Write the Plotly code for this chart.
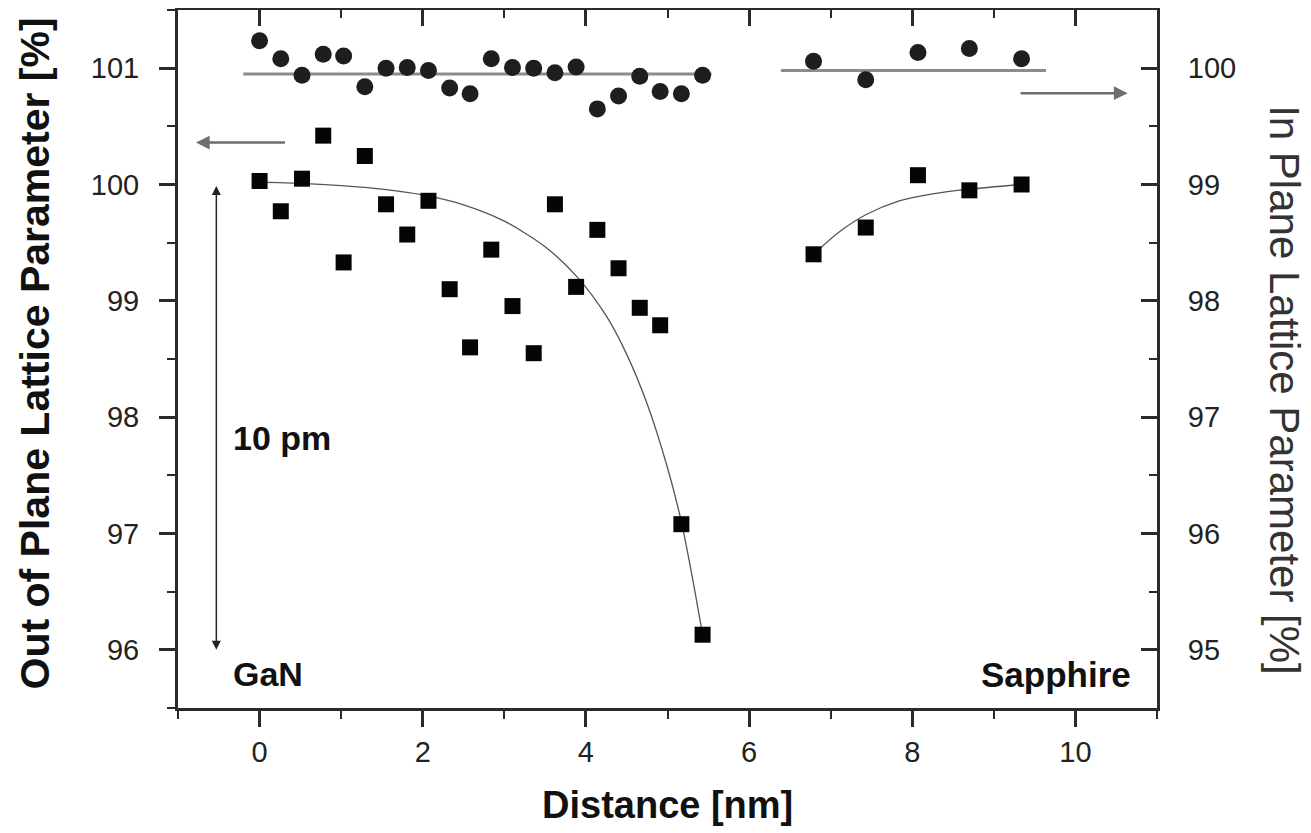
import plotly.graph_objects as go

# ---------------- data ----------------
gan_x = [0.00, 0.26, 0.52, 0.78, 1.03, 1.29, 1.55, 1.81, 2.07, 2.33, 2.58,
         2.84, 3.10, 3.36, 3.62, 3.88, 4.14, 4.40, 4.66, 4.91, 5.17, 5.43]
gan_out = [100.03, 99.77, 100.05, 100.42, 99.33, 100.245, 99.83, 99.57, 99.86, 99.10, 98.60,
           99.44, 98.955, 98.55, 99.83, 99.12, 99.61, 99.28, 98.94, 98.79, 97.08, 96.13]
gan_in = [100.235, 100.08, 99.94, 100.12, 100.105, 99.84, 100.0, 100.005, 99.98, 99.83, 99.78,
          100.08, 100.005, 100.0, 99.96, 100.01, 99.65, 99.76, 99.93, 99.80, 99.78, 99.94]

sap_x = [6.79, 7.43, 8.07, 8.70, 9.34]
sap_out = [99.40, 99.63, 100.08, 99.95, 100.00]
sap_in = [100.06, 99.90, 100.135, 100.17, 100.08]

# fitted curves
gan_fit_x = [0.0, 0.5, 1.0, 1.5, 2.0, 2.5, 3.0, 3.5, 3.9, 4.25, 4.5, 4.75, 5.0, 5.17, 5.3, 5.43]
gan_fit_y = [100.02, 100.01, 99.99, 99.96, 99.91, 99.825, 99.685, 99.465, 99.20, 98.87, 98.54,
             98.115, 97.565, 97.10, 96.64, 96.13]
sap_fit_x = [6.82, 7.1, 7.43, 7.84, 8.25, 8.70, 9.33]
sap_fit_y = [99.42, 99.59, 99.74, 99.86, 99.92, 99.96, 100.0]

# in-plane mean lines
gan_mean_x = [-0.2, 5.54]
gan_mean_y = [99.95, 99.95]
sap_mean_x = [6.39, 9.64]
sap_mean_y = [99.98, 99.98]

x_ticks = [0, 2, 4, 6, 8, 10]

FONT = "Liberation Sans, Arial, sans-serif"
INK = "#111111"

fig = go.Figure()

# mean lines (right axis)
fig.add_trace(go.Scatter(x=gan_mean_x, y=gan_mean_y, xaxis="x2", yaxis="y2", mode="lines",
                         line=dict(color="#8c8c8c", width=3), showlegend=False, hoverinfo="skip"))
fig.add_trace(go.Scatter(x=sap_mean_x, y=sap_mean_y, xaxis="x2", yaxis="y2", mode="lines",
                         line=dict(color="#8c8c8c", width=3), showlegend=False, hoverinfo="skip"))
# fitted curves (left axis)
fig.add_trace(go.Scatter(x=gan_fit_x, y=gan_fit_y, mode="lines", line_shape="spline",
                         line=dict(color="#555555", width=1.3, smoothing=0.8),
                         showlegend=False, hoverinfo="skip"))
fig.add_trace(go.Scatter(x=sap_fit_x, y=sap_fit_y, mode="lines", line_shape="spline",
                         line=dict(color="#555555", width=1.3, smoothing=0.8),
                         showlegend=False, hoverinfo="skip"))
# out-of-plane squares
fig.add_trace(go.Scatter(x=gan_x + sap_x, y=gan_out + sap_out, mode="markers",
                         marker=dict(symbol="square", size=16, color="#050505"), showlegend=False))
# in-plane circles
fig.add_trace(go.Scatter(x=gan_x + sap_x, y=gan_in + sap_in, xaxis="x2", yaxis="y2", mode="markers",
                         marker=dict(symbol="circle", size=17, color="#1e1e1e"), showlegend=False))

axis_common = dict(showgrid=False, zeroline=False, showline=True, linecolor="#2a2a2a",
                   linewidth=3, tickcolor="#2a2a2a", tickwidth=2.5, ticklen=16,
                   tickfont=dict(family=FONT, size=29, color="#222222"))

fig.update_layout(
    width=1311, height=833,
    margin=dict(l=170, r=162, t=2, b=133, autoexpand=False),
    paper_bgcolor="white", plot_bgcolor="white",
    xaxis=dict(range=[-1, 11], tickvals=x_ticks, ticks="outside",
               minor=dict(dtick=1, tick0=0, ticks="outside", ticklen=8, tickwidth=2, tickcolor="#2a2a2a"),
               **axis_common),
    xaxis2=dict(range=[-1, 11], overlaying="x", side="top", tickvals=x_ticks, ticks="inside",
                showticklabels=False,
                minor=dict(dtick=1, tick0=0, ticks="inside", ticklen=8, tickwidth=2, tickcolor="#2a2a2a"),
                **axis_common),
    yaxis=dict(range=[95.5, 101.5], dtick=1, ticks="outside", ticklabelstandoff=14,
               minor=dict(dtick=0.5, ticks="outside", ticklen=8, tickwidth=2, tickcolor="#2a2a2a"),
               **axis_common),
    yaxis2=dict(range=[94.5, 100.5], dtick=1, overlaying="y", side="right", ticks="inside",
                ticklabelstandoff=22,
                minor=dict(dtick=0.5, ticks="inside", ticklen=8, tickwidth=2, tickcolor="#2a2a2a"),
                **axis_common),
)

annotations = [
    # axis titles
    dict(text="<b>Distance [nm]</b>", xref="paper", yref="paper", x=0.4995, y=-0.139,
         showarrow=False, font=dict(family=FONT, size=38, color=INK), xanchor="center", yanchor="middle"),
    dict(text="<b>Out of Plane Lattice Parameter [%]</b>", xref="paper", yref="paper", x=-0.146, y=0.508,
         textangle=-90, showarrow=False, font=dict(family=FONT, size=41, color=INK),
         xanchor="center", yanchor="middle"),
    dict(text="In Plane Lattice Parameter [%]", xref="paper", yref="paper", x=1.13, y=0.455,
         textangle=90, showarrow=False, font=dict(family=FONT, size=42, color="#333333"),
         xanchor="center", yanchor="middle"),
    # labels inside plot
    dict(text="<b>10 pm</b>", x=-0.35, y=97.82, xref="x", yref="y", showarrow=False,
         xanchor="left", yanchor="middle", font=dict(family=FONT, size=34, color=INK)),
    dict(text="<b>GaN</b>", x=-0.35, y=95.79, xref="x", yref="y", showarrow=False,
         xanchor="left", yanchor="middle", font=dict(family=FONT, size=34, color=INK)),
    dict(text="<b>Sapphire</b>", x=10.70, y=95.79, xref="x", yref="y", showarrow=False,
         xanchor="right", yanchor="middle", font=dict(family=FONT, size=35, color=INK)),
    # arrows
    dict(x=-0.78, y=100.36, ax=0.33, ay=100.36, xref="x", yref="y", axref="x", ayref="y",
         text="", showarrow=True, arrowhead=2, arrowsize=1.1, arrowwidth=2.5, arrowcolor="#6e6e6e"),
    dict(x=10.64, y=99.785, ax=9.31, ay=99.785, xref="x2", yref="y2", axref="x2", ayref="y2",
         text="", showarrow=True, arrowhead=2, arrowsize=1.1, arrowwidth=2.5, arrowcolor="#6e6e6e"),
    dict(x=-0.53, y=96.0, ax=-0.53, ay=100.0, xref="x", yref="y", axref="x", ayref="y",
         text="", showarrow=True, arrowhead=2, startarrowhead=2, arrowside="end+start",
         arrowsize=1.2, startarrowsize=1.2, arrowwidth=1.5, arrowcolor="#222222"),
]
fig.update_layout(annotations=annotations)

fig.write_html("out.html")
